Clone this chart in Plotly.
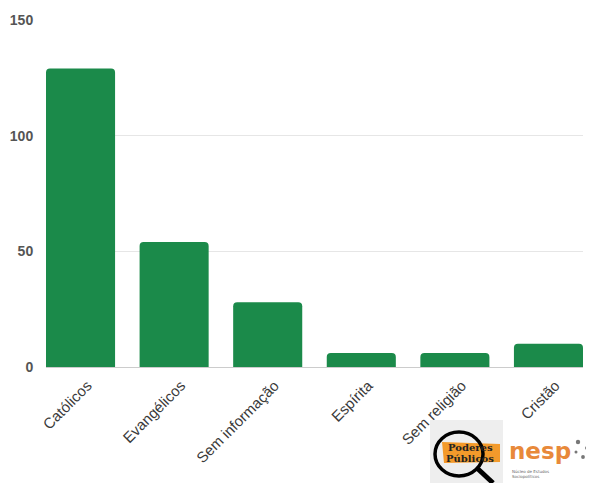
import plotly.graph_objects as go

categories = ["Católicos", "Evangélicos", "Sem informação", "Espírita", "Sem religião", "Cristão"]
values = [129, 54, 28, 6, 6, 10]
y_ticks = [0, 50, 100, 150]

W, H = 594, 483
OFF = 8  # page body margin offset
PL, PT, PW, PH = 46, 20, 537, 347  # plot area in page pixels
L, T = PL - OFF, PT - OFF
R = W - L - PW
B = H - T - PH


def px(x):
    return (x - PL) / PW


def py(y):
    return (PT + PH - y) / PH


fig = go.Figure()
fig.add_trace(go.Bar(
    x=list(range(len(categories))), y=values,
    marker=dict(color="#1b8a4a", cornerradius=4, line=dict(width=0)),
    width=0.738, hoverinfo="y",
))

shapes = []
annotations = []
# Poderes Públicos logo (approximation)
shapes.append(dict(type="rect", xref="paper", yref="paper", x0=px(430), x1=px(503), y0=py(483), y1=py(420),
                   fillcolor="#eeeeee", line=dict(width=0), layer="above"))
shapes.append(dict(type="path", xref="paper", yref="paper",
                   path="M {} {} L {} {} L {} {} L {} {} Z".format(px(442), py(442), px(500), py(444),
                                                                px(500), py(462), px(444), py(463)),
                   fillcolor="#f39a2b", line=dict(width=0), layer="above"))
shapes.append(dict(type="circle", xref="paper", yref="paper", x0=px(435), x1=px(483), y0=py(476), y1=py(432),
                   line=dict(color="black", width=3.5), layer="above"))
shapes.append(dict(type="line", xref="paper", yref="paper", x0=px(478), x1=px(493), y0=py(469), y1=py(483),
                   line=dict(color="black", width=5), layer="above"))
annotations.append(dict(xref="paper", yref="paper", x=px(470), y=py(448), text="<b>Poderes</b>", showarrow=False,
                        font=dict(family="DejaVu Serif", size=10, color="#222"), xanchor="center", yanchor="middle"))
annotations.append(dict(xref="paper", yref="paper", x=px(470), y=py(458), text="<b>Públicos</b>", showarrow=False,
                        font=dict(family="DejaVu Serif", size=10, color="#222"), xanchor="center", yanchor="middle"))
# nesp logo
annotations.append(dict(xref="paper", yref="paper", x=px(507), y=py(466), text="<b>nesp</b>", showarrow=False,
                        font=dict(family="DejaVu Sans", size=23, color="#e8893a"), xanchor="left", yanchor="bottom"))
annotations.append(dict(xref="paper", yref="paper", x=px(510), y=py(467), text="Núcleo de Estudos<br>Sociopolíticos",
                        showarrow=False, align="left",
                        font=dict(family="DejaVu Sans", size=4, color="#666"), xanchor="left", yanchor="top"))
for (cx, cy, r) in [(578, 442, 2.2), (587, 448, 1.9), (583, 457, 1.9), (576, 452, 1.5)]:
    shapes.append(dict(type="circle", xref="paper", yref="paper", x0=px(cx - r), x1=px(cx + r),
                       y0=py(cy + r), y1=py(cy - r), fillcolor="#777", line=dict(width=0), layer="above"))

fig.update_layout(
    width=W, height=H,
    margin=dict(l=L, r=R, t=T, b=B, pad=0, autoexpand=False),
    paper_bgcolor="white", plot_bgcolor="white",
    showlegend=False,
    bargap=0.26,
    font=dict(family="Arial, Liberation Sans, sans-serif", color="#444"),
    xaxis=dict(
        tickmode="array", tickvals=list(range(len(categories))), ticktext=categories,
        range=[-0.369, len(categories) - 1 + 0.369],
        tickangle=-45, tickfont=dict(size=15, color="#3a3a3a"), ticklabelshift=7,
        showgrid=False, showline=False, zeroline=False, ticks="outside", ticklen=3, tickcolor="rgba(0,0,0,0)",
        automargin=False,
    ),
    yaxis=dict(
        range=[0, 150], tickmode="array", tickvals=y_ticks,
        tickfont=dict(size=14, color="#555", weight="bold"),
        showgrid=True, gridcolor="#e6e6e6", gridwidth=1,
        zeroline=True, zerolinecolor="#cccccc", zerolinewidth=1,
        showline=False, ticks="outside", ticklen=9, tickcolor="rgba(0,0,0,0)",
        automargin=False,
    ),
    shapes=shapes, annotations=annotations,
)

fig.write_html("out.html")
